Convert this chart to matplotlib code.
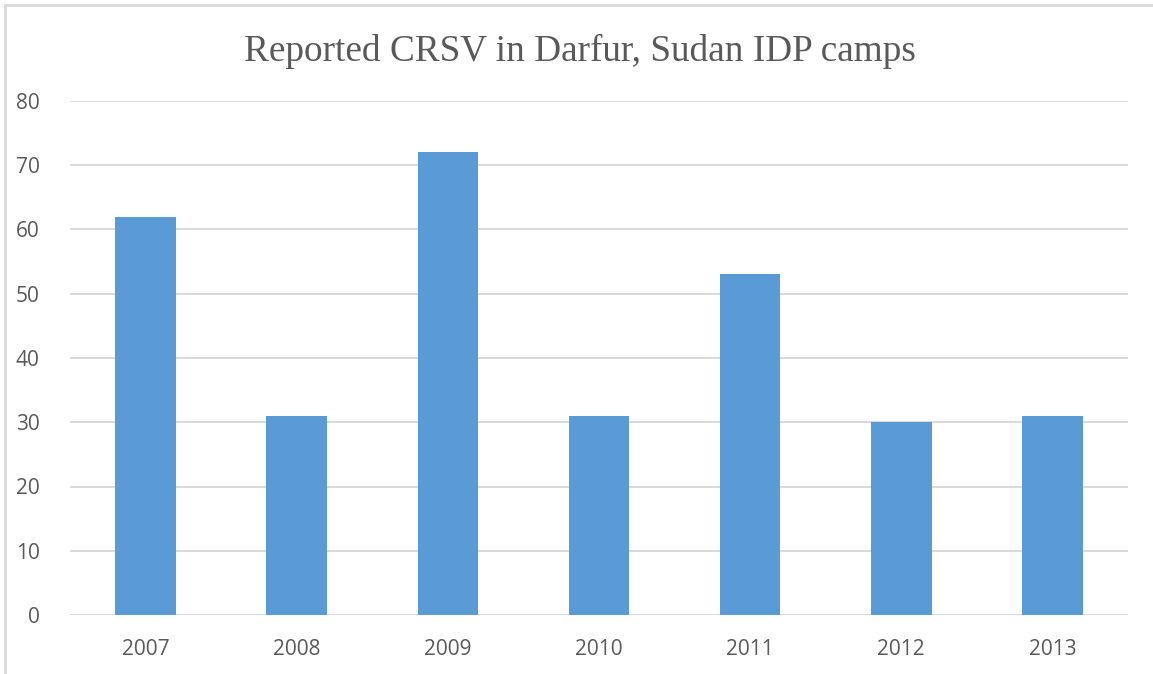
import matplotlib.pyplot as plt
import matplotlib
from matplotlib.lines import Line2D

# chart data
years = ["2007", "2008", "2009", "2010", "2011", "2012", "2013"]
reports = [62, 31, 72, 31, 53, 30, 31]
yticks = [0, 10, 20, 30, 40, 50, 60, 70, 80]

barColour = "#5B9BD5"
gridColour = "#D9D9D9"
textColour = "#595959"

matplotlib.rcParams['font.family'] = ['Open Sans', 'DejaVu Sans']

W, H = 1153, 674
fig = plt.figure(figsize=(W/100, H/100), dpi=100)
ax = fig.add_axes([70/W, 1 - 615/H, (1128-70)/W, (615-101)/H])

x = range(len(years))
ax.bar(x, reports, width=0.4, color=barColour, zorder=3)

ax.set_xlim(-0.5, len(years) - 0.5)
ax.set_ylim(0, 80)
ax.set_yticks(yticks)
ax.set_xticks(list(x))
ax.set_xticklabels(years)
ax.grid(axis='y', color=gridColour, lw=1.4, zorder=0)
for s in ax.spines.values():
    s.set_visible(False)
ax.tick_params(length=0, labelsize=15, colors=textColour)
ax.tick_params(axis='y', pad=22)
ax.tick_params(axis='x', pad=17)

fig.text(580/W, 1 - 51/H, "Reported CRSV in Darfur, Sudan IDP camps",
         ha='center', va='center', fontsize=26.8, color=textColour,
         family=['Liberation Serif', 'DejaVu Serif'])

# outer chart border (only left and top visible)
fig.add_artist(Line2D([5/W, 5/W], [0, 1 - 5/H], transform=fig.transFigure,
                      color=gridColour, lw=2))
fig.add_artist(Line2D([5/W, 1], [1 - 5/H, 1 - 5/H], transform=fig.transFigure,
                      color=gridColour, lw=2))

fig.savefig("out.png", dpi=100)
